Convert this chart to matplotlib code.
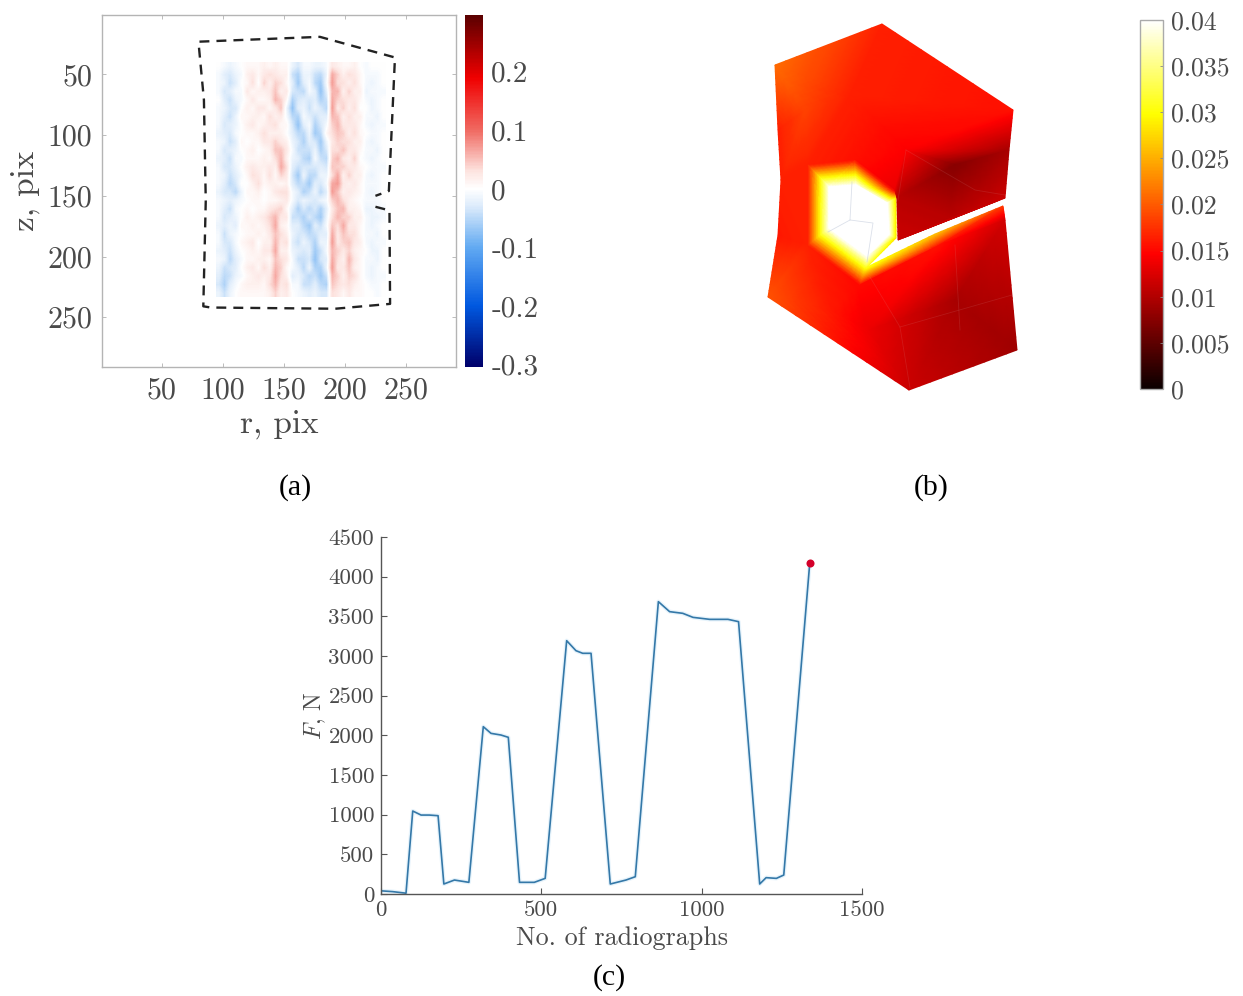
import numpy as np
import matplotlib
matplotlib.use('Agg')
import matplotlib.pyplot as plt
import matplotlib.tri as mtri
from matplotlib.colors import LinearSegmentedColormap

W, H = 1243, 996

# (a) residual field, in units of 0.008 (rows z, columns r)
field_rows = [
    [0, -1, -2, -1, 0, 1, 1, 1, 2, 1, 2, 1, 1, -2, -4, -1, -1, -2, -2, -1, 3, 2, 1, 1, 2, 0, -1, 0, 0, 0],
    [-1, -3, -4, -2, -1, 2, 3, 1, 3, 4, 3, 2, 2, -5, -7, -2, -2, -5, -6, -2, 8, 5, 2, 4, 3, 1, -1, -1, -1, 0],
    [-1, -2, -5, -3, 0, 1, 4, 0, 5, 2, 5, 4, 1, -3, -8, -3, -1, -6, -8, -1, 9, 4, 4, 2, 4, 1, -1, -2, -1, 0],
    [-1, -4, -3, -1, -1, 3, 1, 2, 2, 3, 6, 2, 3, -4, -5, -6, -1, -3, -9, -3, 7, 7, 2, 5, 2, 2, -2, -1, -1, -1],
    [0, -3, -5, -2, -1, 1, 3, 1, 1, 2, 7, 5, 1, -7, -4, -3, -4, -3, -7, -5, 8, 5, 4, 3, 3, 1, -1, -2, -1, 0],
    [-1, -2, -4, -4, 0, 2, 1, 3, 3, 1, 3, 6, -2, -9, -3, -2, -5, -2, -4, -6, 9, 3, 5, 2, 4, 0, 0, -2, -1, 0],
    [-1, -3, -5, -2, 1, 1, 2, 2, 1, 4, 2, 3, -1, -6, -7, -1, -3, -5, -3, -3, 7, 6, 2, 4, 2, 2, -1, -1, -2, 0],
    [-1, -4, -3, -2, 0, 2, 3, 1, 2, 3, 4, 1, 1, -4, -9, -3, -1, -7, -4, -1, 5, 7, 3, 3, 3, 1, -1, -2, -1, -1],
    [-2, -3, -4, -1, 0, 1, 1, 2, 4, 2, 2, 2, 0, -3, -6, -6, -2, -8, -6, 1, 4, 6, 5, 2, 4, 1, 0, -1, -1, 0],
    [-1, -2, -5, -3, 1, 0, 1, 1, 3, 3, 5, 3, 2, -2, -4, -7, -3, -4, -8, -2, 3, 5, 4, 4, 2, 2, -1, -2, -1, 0],
    [-1, -4, -3, -2, 0, 1, 2, 0, 1, 2, 6, 6, 3, -1, -5, -5, -5, -2, -7, -4, 4, 4, 6, 3, 3, 1, -1, -1, -2, 0],
    [-2, -3, -5, -1, -1, 1, 1, 1, 2, 1, 4, 7, 2, -2, -3, -6, -7, -1, -5, -6, 5, 7, 3, 2, 5, 0, -1, -2, -1, 0],
    [-1, -4, -4, -2, 0, 2, 3, 2, 2, 3, 2, 8, 4, -3, -5, -4, -4, -4, -3, -4, 6, 5, 5, 3, 3, 1, 0, -1, -1, -1],
    [-1, -2, -5, -3, -1, 1, 4, 3, 1, 4, 1, 5, 3, -4, -8, -2, -6, -6, -2, -2, 4, 8, 2, 5, 2, 2, -1, -2, -1, 0],
    [-1, -3, -6, -4, 0, 0, 2, 4, 1, 2, 2, 1, 2, -3, -6, -5, -8, -3, -4, -1, 8, 9, 3, 2, 3, 1, -1, -1, -1, 0],
    [-2, -4, -4, -6, -2, 1, 1, 2, 0, 1, 3, 4, 4, -1, -3, -7, -5, -2, -6, -3, 9, 6, 2, 3, 2, 1, -1, -2, -1, 0],
    [-1, -2, -3, -2, -1, 0, 1, 1, 0, 1, 1, 2, 3, -1, -4, -2, -3, -4, -2, -1, 5, 7, 4, 2, 1, 0, -1, -1, -1, 0],
    [-1, -3, -5, -1, 0, 1, 0, 1, 1, 3, 4, 5, 1, -3, -7, -4, -6, -4, -7, -3, 3, 6, 7, 2, 2, 1, -2, -2, -1, -1],
    [-1, -4, -3, -2, 0, 2, 1, 2, 3, 5, 7, 3, 3, -5, -5, -7, -4, -6, -8, -2, 4, 7, 5, 5, 2, 2, -1, -2, -2, -1],
    [-2, -3, -2, -3, 1, 1, 2, 1, 2, 4, 8, 2, 1, -3, -3, -6, -8, -3, -5, -1, 6, 4, 8, 3, 3, 1, -1, -2, -1, 0],
    [-1, -5, -2, -1, 0, 1, 1, 2, 1, 3, 6, 4, 2, -2, -4, -4, -6, -5, -3, -3, 8, 3, 6, 4, 4, 1, -1, -1, -2, 0],
    [-1, -4, -4, -1, 1, 2, 3, 0, 2, 2, 7, 3, 4, -3, -5, -2, -4, -7, -2, -2, 9, 3, 5, 6, 3, 2, -1, -2, -1, -1],
    [-2, -3, -5, -2, 0, 1, 2, 1, 3, 3, 8, 2, 2, -2, -3, -4, -3, -8, -5, -1, 7, 5, 3, 5, 2, 1, 0, -2, -2, 0],
    [-1, -2, -6, -3, -1, 1, 1, 2, 2, 1, 6, 4, 3, -1, -5, -5, -4, -9, -4, -3, 8, 4, 2, 7, 3, 1, -1, -1, -2, 0],
    [-2, -5, -4, -3, 0, 2, 3, 1, 4, 2, 7, 5, 1, -1, -3, -6, -2, -7, -7, -2, 9, 3, 3, 6, 2, 1, -1, -2, -1, 0],
    [-3, -6, -5, -2, -1, 1, 2, 3, 2, 3, 8, 4, 2, -3, -2, -4, -6, -5, -8, -5, 7, 5, 2, 5, 4, 1, -1, -2, -1, -1],
    [-4, -7, -3, -1, 1, 2, 2, 2, 1, 4, 7, 3, 4, -1, -1, -5, -5, -3, -6, -7, 6, 4, 3, 4, 2, 1, 0, -1, -1, 0],
    [-2, -5, -2, 0, 1, 1, 1, 1, 1, 2, 5, 2, 3, 0, -1, -2, -3, -2, -4, -4, 4, 3, 1, 3, 1, 1, 0, 0, -1, 0],
]
outline_r = [225, 236.5, 237, 192, 90, 84, 86, 84.5, 80, 179.5, 241, 236, 225]
outline_z = [159, 162, 239, 243, 242, 241, 154, 71, 23, 19, 36, 146, 150]
ticks_a = [50, 100, 150, 200, 250]
cbar_a_ticks = [-0.3, -0.2, -0.1, 0, 0.1, 0.2]
cbar_a_labels = ['-0.3', '-0.2', '-0.1', '0', '0.1', '0.2']

# (b) strain on the deformed mesh, nodes read in picture coordinates
node_x = [775, 882, 1013, 906, 850, 805, 778, 781, 778, 768, 909, 1017, 808, 855, 895, 808, 860,
          829, 856, 887, 889, 867, 829, 896, 896, 867, 897, 898, 1009, 1005, 955, 950,
          1003, 935, 938, 1005, 955, 870, 832]
node_y = [65, 24, 110, 150, 95, 110, 130, 180, 235, 297, 390, 350, 165, 160, 190, 245, 285,
          187, 185, 203, 234, 256, 228, 198, 238, 267, 198, 240, 150, 198, 165, 218,
          206, 234, 246, 220, 300, 330, 310]
node_strain = [.021, .0165, .0155, .0145, .0165, .0185, .0165, .0165, .016, .0195, .0115, .0090,
               .0165, .0155, .0135, .0165, .0150,
               .04, .04, .04, .04, .04, .04, .028, .028, .031,
               .0105, .0115, .0095, .0115, .0075, .0105,
               .018, .026, .0155, .0120, .0095, .0135, .0160]
mesh = [(0, 1, 4), (1, 2, 4), (2, 3, 4), (0, 4, 5), (0, 5, 6), (6, 5, 7), (5, 7, 12), (5, 4, 12),
        (4, 12, 13), (4, 13, 3), (3, 13, 14), (7, 12, 15), (7, 8, 15), (8, 9, 15), (9, 15, 38),
        (9, 38, 10), (38, 37, 10), (15, 16, 38), (16, 37, 38),
        (12, 13, 17), (13, 17, 18), (13, 14, 18), (14, 18, 19), (14, 19, 23), (19, 20, 23),
        (20, 23, 24), (20, 21, 24), (21, 24, 25), (21, 25, 16), (22, 21, 16), (22, 16, 15),
        (22, 15, 12), (22, 12, 17),
        (17, 18, 19), (17, 19, 20), (17, 20, 21), (17, 21, 22),
        (3, 2, 28), (3, 28, 30), (3, 30, 26), (3, 26, 14), (26, 30, 31), (30, 28, 29),
        (30, 29, 31), (26, 31, 27), (27, 31, 29),
        (25, 33, 34), (33, 32, 34), (32, 35, 34), (25, 34, 16), (16, 34, 37), (34, 36, 37),
        (34, 35, 36), (35, 11, 36), (36, 11, 10), (36, 10, 37)]
# faint element edges, hot zone then dark faces
edges_hot = [[(852, 182), (850, 220), (873, 223), (867, 262)], [(850, 220), (828, 232)]]
edges_dark = [[(906, 150), (898, 200)], [(906, 150), (975, 190), (1005, 195)], [(870, 277), (900, 327), (910, 388)],
              [(900, 327), (1012, 295)], [(955, 245), (960, 330)]]
cbar_b_ticks = [0, 0.005, 0.01, 0.015, 0.02, 0.025, 0.03, 0.035, 0.04]
cbar_b_labels = ['0', '0.005', '0.01', '0.015', '0.02', '0.025', '0.03', '0.035', '0.04']

# (c) load history
radiographs = [0, 36, 78, 99, 125, 151, 178, 196, 229, 274, 319, 343, 374, 397, 432, 478, 512,
               579, 608, 629, 655, 715, 764, 793, 865, 900, 941, 973, 1025, 1082, 1115, 1181,
               1201, 1233, 1256, 1337]
force = [40, 30, 10, 1046, 995, 995, 987, 126, 176, 147, 2109, 2025, 2004, 1975, 147, 147, 197,
         3193, 3067, 3034, 3034, 126, 176, 218, 3685, 3559, 3538, 3487, 3462, 3462, 3433, 126,
         206, 197, 239, 4168]
last_point = (1337, 4168)

plt.rcParams['font.family'] = ['cmr10', 'DejaVu Serif']
plt.rcParams['mathtext.fontset'] = 'cm'
plt.rcParams['axes.unicode_minus'] = False
TXT = '#4a4a4a'


def px_axes(fig, left, top, right, bottom):
    return fig.add_axes([left / W, 1 - bottom / H, (right - left) / W, (bottom - top) / H])


def subdivide(xs, ys, vals, triangles, n=10):
    # gouraud blends colours, not values, so each element is cut up first
    # to make the colour pass through the whole colormap
    out_x, out_y, out_v, out_t = [], [], [], []
    for a, b, c in triangles:
        idx = {}
        for i in range(n + 1):
            for j in range(n + 1 - i):
                k = n - i - j
                idx[(i, j)] = len(out_x)
                out_x.append((i * xs[a] + j * xs[b] + k * xs[c]) / n)
                out_y.append((i * ys[a] + j * ys[b] + k * ys[c]) / n)
                out_v.append((i * vals[a] + j * vals[b] + k * vals[c]) / n)
        for i in range(n):
            for j in range(n - i):
                out_t.append((idx[(i, j)], idx[(i + 1, j)], idx[(i, j + 1)]))
                if i + j < n - 1:
                    out_t.append((idx[(i + 1, j)], idx[(i + 1, j + 1)], idx[(i, j + 1)]))
    return out_x, out_y, out_v, out_t


vmin, vmax = -0.304, 0.297
stops = [(-0.304, '#00006a'), (-0.2, '#0058e0'), (-0.1, '#62aaf2'), (-0.03, '#dcebfb'),
         (0, '#ffffff'), (0.03, '#fde4e0'), (0.1, '#f06a62'), (0.19, '#f00000'), (0.297, '#5a0000')]
residual_cmap = LinearSegmentedColormap.from_list(
    'residual', [((v - vmin) / (vmax - vmin), c) for v, c in stops])

fig = plt.figure(figsize=(W / 100, H / 100), dpi=100)

# panel (a)
ax = px_axes(fig, 102, 15, 456, 367)
im = ax.imshow(np.array(field_rows) * 0.008, cmap=residual_cmap, vmin=vmin, vmax=vmax, aspect='auto',
               extent=[94, 233, 233, 40], interpolation='bilinear')
ax.plot(outline_r, outline_z, color='#222222', lw=1.7, ls=(0, (4.2, 3.0)))
ax.set_xlim(1, 291)
ax.set_ylim(291, 1)
ax.set_xticks(ticks_a)
ax.set_yticks(ticks_a)
ax.tick_params(direction='in', length=3, width=0.7, color='#bbbbbb', top=True, right=True,
               labelsize=21.5, labelcolor=TXT, pad=7)
for s in ax.spines.values():
    s.set_color('#b4b4b4')
    s.set_linewidth(1.0)
ax.set_xlabel('r, pix', fontsize=24, color=TXT, labelpad=4)
ax.set_ylabel('z, pix', fontsize=24, color=TXT, labelpad=5)

cax = px_axes(fig, 465, 15, 483, 367)
cb = fig.colorbar(im, cax=cax)
cb.set_ticks(cbar_a_ticks, labels=cbar_a_labels)
cb.ax.tick_params(length=0, labelsize=21, labelcolor=TXT, pad=6)
cb.outline.set_visible(False)

# panel (b)
ax_b = px_axes(fig, 740, 10, 1040, 400)
fine_x, fine_y, fine_v, fine_t = subdivide(node_x, node_y, node_strain, mesh)
tri = mtri.Triangulation(fine_x, fine_y, fine_t)
tp = ax_b.tripcolor(tri, fine_v, shading='gouraud', cmap='hot', vmin=0, vmax=0.04)
for e in edges_hot:
    ax_b.plot(*zip(*e), color='#c4ccdc', lw=0.6, alpha=0.6)
for e in edges_dark:
    ax_b.plot(*zip(*e), color='#d8a0a0', lw=0.6, alpha=0.15)
ax_b.set_xlim(740, 1040)
ax_b.set_ylim(400, 10)
ax_b.axis('off')

cax_b = px_axes(fig, 1140, 20, 1163, 389)
cb_b = fig.colorbar(tp, cax=cax_b)
cb_b.set_ticks(cbar_b_ticks, labels=cbar_b_labels)
cb_b.ax.tick_params(direction='in', length=2, width=0.6, color='#888888', labelsize=18.5,
                    labelcolor=TXT, pad=6)
cb_b.outline.set_edgecolor('#aaaaaa')
cb_b.outline.set_linewidth(1.0)

# panel (c)
ax_c = px_axes(fig, 381, 537, 862, 894)
ax_c.plot(radiographs, force, color='#9fd0f0', lw=3.0, alpha=0.25)
ax_c.plot(radiographs, force, color='#3478a8', lw=1.2)
ax_c.plot(*last_point, 'o', color='#d4002a', ms=5.8, mew=0, clip_on=False)
ax_c.set_xlim(0, 1500)
ax_c.set_ylim(0, 4500)
ax_c.set_xticks([0, 500, 1000, 1500])
ax_c.set_yticks(np.arange(0, 4501, 500))
ax_c.spines['top'].set_visible(False)
ax_c.spines['right'].set_visible(False)
for k in ['left', 'bottom']:
    ax_c.spines[k].set_color('#555555')
    ax_c.spines[k].set_linewidth(1.0)
ax_c.tick_params(direction='in', length=4, width=0.8, color='#555555', labelsize=16.5,
                 labelcolor=TXT, pad=5)
ax_c.set_xlabel('No. of radiographs', fontsize=18.8, color=TXT, labelpad=4)
ax_c.set_ylabel(r'$F$, N', fontsize=17, color=TXT, labelpad=0)

# captions
for txt, x, y in [('(a)', 295, 488), ('(b)', 931, 488), ('(c)', 609, 978)]:
    fig.text(x / W, 1 - y / H, txt, family='Liberation Serif', fontsize=21.5, color='black',
             ha='center', va='center')

fig.savefig('out.png', dpi=100)
